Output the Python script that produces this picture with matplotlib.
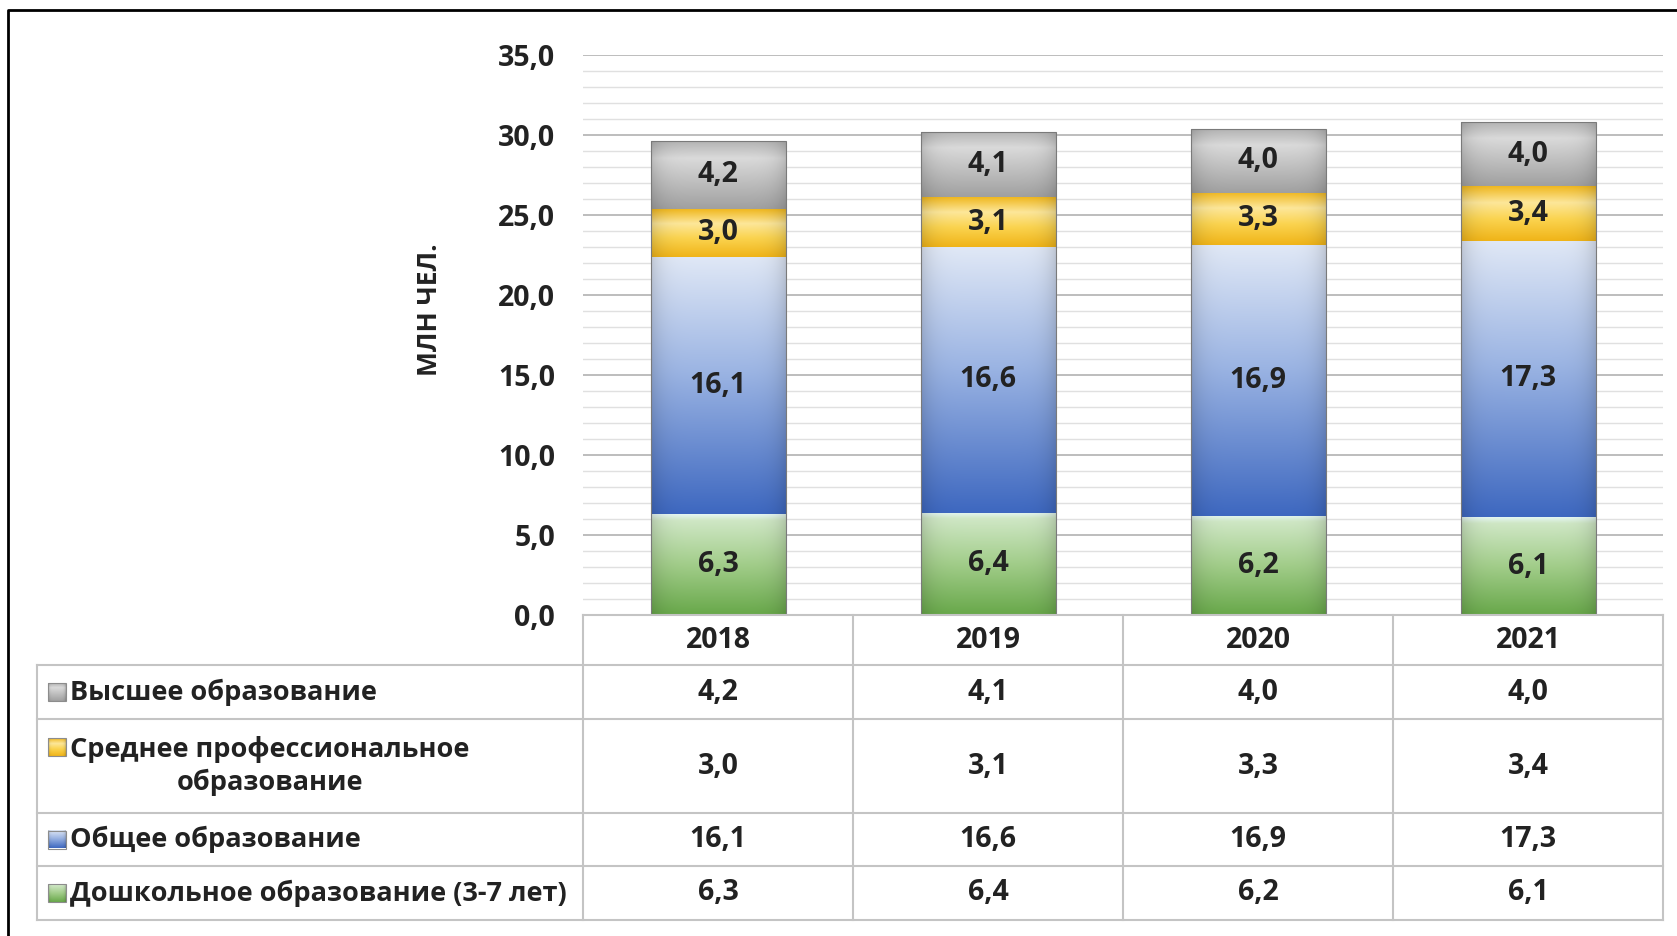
import numpy as np
import matplotlib
matplotlib.use("Agg")
import matplotlib.pyplot as plt
from matplotlib.patches import Rectangle
from matplotlib.colors import to_rgb
from matplotlib.ticker import MultipleLocator, FuncFormatter

# ---------------- data ----------------
years = ["2018", "2019", "2020", "2021"]
preschool = [6.3, 6.4, 6.2, 6.1]          # Дошкольное образование (3-7 лет)
general = [16.1, 16.6, 16.9, 17.3]        # Общее образование
secondary_prof = [3.0, 3.1, 3.3, 3.4]     # Среднее профессиональное образование
higher = [4.2, 4.1, 4.0, 4.0]             # Высшее образование

series_names = ["Дошкольное образование (3-7 лет)", "Общее образование",
                "Среднее профессиональное\nобразование", "Высшее образование"]
y_label = "МЛН ЧЕЛ."

# ---------------- style ----------------
plt.rcParams['font.family'] = ['Open Sans', 'DejaVu Sans']
FS_NUM = 20.5
FS_LAB = 19.5
FW = 'bold'
TXT = '#222222'

gradients = {
    'green': [(0.0, '#e4f6f2'), (0.06, '#cfe7c5'), (0.5, '#a2cd8a'), (1.0, '#68a84a')],
    'blue': [(0.0, '#e0e8f6'), (0.45, '#9bb4e3'), (1.0, '#3e68c0')],
    'yellow': [(0.0, '#f0b820'), (0.3, '#fde79a'), (0.6, '#fbd450'), (1.0, '#f0b418')],
    'gray': [(0.0, '#b4b4b4'), (0.25, '#dadada'), (1.0, '#a0a0a0')],
}
series_grad = ['green', 'blue', 'yellow', 'gray']


def make_grad(stops, edge=0.14, n=128):
    pos = np.array([s[0] for s in stops])
    cols = np.array([to_rgb(s[1]) for s in stops])
    t = np.linspace(0, 1, n)
    col = np.stack([np.interp(t, pos, cols[:, k]) for k in range(3)], axis=-1)  # n x 3
    u = np.linspace(-1, 1, n)
    f = 1 - edge * np.abs(u) ** 6
    img = col[:, None, :] * f[None, :, None]
    return np.clip(img, 0, 1)


def fmt(v):
    return f"{v:.1f}".replace('.', ',')


W, H = 1677, 936
fig = plt.figure(figsize=(W / 100, H / 100), dpi=100)


def fx(px):
    return px / W


def fy(py):
    return 1 - py / H


X0, X1, Y0, Y35 = 583, 1663, 615, 55
ax = fig.add_axes([fx(X0), fy(Y0), fx(X1) - fx(X0), fy(Y35) - fy(Y0)])
ax.patch.set_alpha(0)
x = np.arange(len(years))
width = 0.5

bottom = np.zeros(len(years))
for vals, gname in zip([preschool, general, secondary_prof, higher], series_grad):
    vals = np.array(vals)
    bars = ax.bar(x, vals, width, bottom=bottom, color='none', edgecolor='none', zorder=2)
    img = make_grad(gradients[gname])
    for b in bars:
        x0, y0 = b.get_x(), b.get_y()
        im = ax.imshow(img, extent=(x0, x0 + b.get_width(), y0, y0 + b.get_height()),
                       aspect='auto', origin='upper', zorder=2, interpolation='bilinear')
        im.set_clip_path(b)
    for xi, bi, v in zip(x, bottom, vals):
        ax.text(xi, bi + v / 2, fmt(v), ha='center', va='center', fontsize=FS_NUM,
                color=TXT, fontweight=FW, zorder=5)
    bottom = bottom + vals

# thin dark outline along the top of each stack
tops = ax.bar(x, bottom, width, color='none', edgecolor='#7a7a7a', lw=0.8, zorder=3)

ax.set_xlim(-0.5, len(years) - 0.5)
ax.set_ylim(0, 35)
ax.set_aspect('auto')
ax.yaxis.set_major_locator(MultipleLocator(5))
ax.yaxis.set_minor_locator(MultipleLocator(1))
ax.yaxis.set_major_formatter(FuncFormatter(lambda v, p: fmt(v)))
ax.grid(True, axis='y', which='major', color='#bdbdbd', lw=1.4)
ax.grid(True, axis='y', which='minor', color='#e0e0e0', lw=1.0)
ax.set_axisbelow(True)
for s in ax.spines.values():
    s.set_visible(False)
ax.set_xticks([])
ax.tick_params(axis='y', which='both', length=0, pad=20, labelsize=FS_NUM, labelcolor=TXT)
for lab in ax.get_yticklabels():
    lab.set_fontweight(FW)

fig.text(fx(430), fy(310), y_label, rotation=90, ha='center', va='center',
         fontsize=19, color=TXT, fontweight=FW)

# ---------------- data table ----------------
tab = fig.add_axes([0, 0, 1, 1], zorder=3)
tab.set_xlim(0, W)
tab.set_ylim(H, 0)
tab.axis('off')
tab.patch.set_alpha(0)

LC = '#c4c4c4'
col_edges = np.linspace(X0, X1, len(years) + 1)
col_centers = (col_edges[:-1] + col_edges[1:]) / 2
row_edges = [665, 719, 813, 866, 920]
tab.plot([X0, X1], [Y0, Y0], color=LC, lw=1.5)
for ry in row_edges:
    tab.plot([37, X1], [ry, ry], color=LC, lw=1.5)
tab.plot([37, 37], [row_edges[0], row_edges[-1]], color=LC, lw=1.5)
for cx in col_edges:
    tab.plot([cx, cx], [Y0, row_edges[-1]], color=LC, lw=1.5)

for cx, yr in zip(col_centers, years):
    tab.text(cx, 641, yr, ha='center', va='center', fontsize=FS_NUM, color=TXT,
             fontweight=FW)

rows = [(series_names[3], higher, 'gray'),
        (series_names[2], secondary_prof, 'yellow'),
        (series_names[1], general, 'blue'),
        (series_names[0], preschool, 'green')]
for i, (name, vals, gname) in enumerate(rows):
    yc = (row_edges[i] + row_edges[i + 1]) / 2
    for cx, v in zip(col_centers, vals):
        tab.text(cx, yc, fmt(v), ha='center', va='center', fontsize=FS_NUM, color=TXT,
                 fontweight=FW)
    ky = yc - 19 if '\n' in name else yc
    tab.imshow(make_grad(gradients[gname], edge=0.2), extent=(48, 66, ky + 9, ky - 9),
               aspect='auto', origin='upper', zorder=3)
    tab.add_patch(Rectangle((48, ky - 9), 18, 18, fill=False, edgecolor='#8c8c8c', lw=0.8, zorder=4))
    tab.text(70, yc, name, ha='left', va='center', fontsize=FS_LAB, color=TXT,
             multialignment='center', fontweight=FW, linespacing=1.25)

tab.set_xlim(0, W)
tab.set_ylim(H, 0)
tab.set_aspect('auto')

# outer frame (left and top visible)
tab.plot([8, 8, W + 5], [H + 5, 10, 10], color='black', lw=2)

fig.savefig("out.png", dpi=100)
